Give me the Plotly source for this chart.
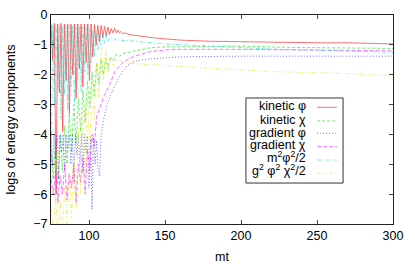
import plotly.graph_objects as go

# ---------------- data ----------------
kin_phi_x = [75.0, 76.1, 77.2, 78.3, 79.4, 80.5, 81.6, 82.7, 83.8, 84.9, 86.0, 87.1, 88.2, 89.3,
             90.4, 91.5, 92.6, 93.7, 94.8, 95.9, 97.0, 98.1, 99.2, 100.3, 101.4, 102.5, 103.6,
             104.7, 105.8, 106.9, 108.0, 109.1, 110.2, 111.3, 112.4, 113.5, 114.6, 115.7, 116.8,
             118, 119, 120, 121, 122, 124, 126, 130, 135, 140, 150, 160, 180, 200, 220, 250, 270, 300]
kin_phi_y = [-0.3, -1.5, -0.28, -6.0, -0.3, -2.6, -0.28, -3.9, -0.3, -2.2, -0.3, -3.3, -0.3, -2.0,
             -0.3, -2.8, -0.3, -1.8, -0.3, -2.4, -0.3, -1.6, -0.3, -2.2, -0.3, -1.4, -0.32,
             -1.0, -0.35, -0.9, -0.35, -0.75, -0.38, -0.7, -0.4, -0.65, -0.45, -0.6, -0.45,
             -0.6, -0.5, -0.6, -0.55, -0.62, -0.6, -0.65, -0.68, -0.72, -0.75, -0.8, -0.84, -0.88, -0.9, -0.92, -0.93, -0.93, -0.97]

kin_chi_x = [75, 76.5, 78, 79.5, 81, 82.5, 84, 85.5, 87, 88.5, 90, 91.5, 93, 94.5, 96, 97.5, 99,
             100.5, 102, 103.5, 105, 106.5, 108, 109.5, 111, 112.5, 114, 116, 118, 120, 123, 126,
             130, 140, 150, 175, 200, 225, 250, 275, 300]
kin_chi_y = [-4.5, -5.5, -4.2, -5.7, -4.0, -5.2, -3.7, -5.0, -3.3, -4.6, -3.0, -4.3, -2.8, -3.9,
             -2.5, -3.6, -2.2, -3.1, -1.9, -2.7, -1.6, -2.3, -1.5, -2.0, -1.45, -1.8, -1.4, -1.55,
             -1.32, -1.38, -1.28, -1.25, -1.2, -1.1, -1.07, -1.05, -1.04, -1.08, -1.1, -1.12, -1.12]

grad_phi_x = [75, 76, 77, 78, 79, 80, 81, 82, 83, 84, 85, 86, 87, 88, 89, 90, 91, 92, 93, 94, 95,
              96, 97, 98, 99, 100, 101, 102, 103, 104, 105, 106, 107, 108, 109, 110, 112, 114,
              116, 118, 120, 122, 125, 129, 135, 140, 160, 200, 250, 300]
grad_phi_y = [-4.0, -5.0, -4.0, -4.8, -4.0, -5.5, -4.0, -4.6, -4.0, -5.2, -4.0, -4.5, -4.0, -5.0,
              -4.0, -5.6, -4.0, -4.7, -4.0, -5.0, -4.0, -5.3, -4.0, -4.6, -4.05, -5.8, -4.1,
              -6.5, -4.1, -5.0, -4.2, -5.2, -5.4, -4.0, -3.7, -3.4, -3.0, -2.7, -2.5, -2.25,
              -2.05, -1.9, -1.7, -1.57, -1.5, -1.47, -1.4, -1.38, -1.37, -1.38]

grad_chi_x = [75, 76.5, 78, 79.5, 81, 82.5, 84, 85.5, 87, 88.5, 90, 91.5, 93, 94.5, 96, 97.5, 99,
              100.5, 102, 103.5, 105, 107, 110, 113, 117, 120, 125, 130, 135, 140, 150, 160,
              200, 250, 300]
grad_chi_y = [-5.5, -6.0, -5.2, -6.3, -5.4, -6.0, -5.0, -6.2, -5.3, -5.8, -5.0, -6.3, -5.0, -5.6,
              -4.8, -6.0, -4.5, -5.2, -4.0, -4.4, -3.4, -3.1, -2.7, -2.4, -1.9, -1.7, -1.5, -1.38,
              -1.3, -1.23, -1.17, -1.15, -1.15, -1.18, -1.2]

pot_x = kin_phi_x[:35] + [114, 116, 118, 120, 125, 130, 140, 150, 175, 200, 225, 250, 275, 300]
pot_y = [-5.5, -0.35, -3.0, -0.35, -2.5, -0.35, -3.5, -0.35, -2.7, -0.35, -3.2, -0.35, -2.4,
         -0.35, -3.0, -0.38, -2.2, -0.38, -2.6, -0.4, -1.9, -0.42, -2.0, -0.45, -1.6, -0.5,
         -1.4, -0.55, -1.2, -0.6, -1.0, -0.65, -0.95, -0.7, -0.9,
         -0.75, -0.85, -0.8, -0.85, -0.85, -0.88, -0.92, -0.97, -1.03, -1.1, -1.15, -1.18, -1.22, -1.25]

int_x = [75, 76.5, 78, 79.5, 81, 82.5, 84, 85.5, 87, 88.5, 90, 91.5, 93, 94.5, 96, 97.5, 99, 100.5,
         102, 103.5, 105, 106.5, 108, 109.5, 111, 112.5, 114, 116, 118, 121, 125, 130, 140, 160,
         180, 200, 225, 250, 275, 300]
int_y = [-6.5, -7.2, -6.0, -7.5, -6.2, -7.3, -5.8, -7.0, -5.3, -6.8, -4.5, -6.5, -3.8, -6.0, -3.2,
         -5.5, -2.7, -4.5, -2.2, -3.5, -1.6, -2.8, -1.1, -2.2, -1.2, -1.9, -1.4, -1.7, -1.5, -1.55,
         -1.6, -1.63, -1.66, -1.74, -1.8, -1.84, -1.9, -1.93, -1.97, -2.05]

series_names = ["kinetic φ", "kinetic χ", "gradient φ", "gradient χ",
                "m<sup>2</sup>φ<sup>2</sup>/2", "g<sup>2</sup> φ<sup>2</sup> χ<sup>2</sup>/2"]
series_x = [kin_phi_x, kin_chi_x, grad_phi_x, grad_chi_x, pot_x, int_x]
series_y = [kin_phi_y, kin_chi_y, grad_phi_y, grad_chi_y, pot_y, int_y]

x_ticks = [100, 150, 200, 250, 300]
y_ticks = [0, -1, -2, -3, -4, -5, -6, -7]

# ---------------- styles ----------------
colors = ["#ff0000", "#00e000", "#0000ff", "#ff00ff", "#00e0e0", "#e8e800"]
dashes = ["solid", "3px,2px", "1px,2px", "4px,2px", "4px,2px,1px,2px", "4px,2px,1px,2px,1px,2px"]

fig = go.Figure()
for name, xs, ys, c, d in zip(series_names, series_x, series_y, colors, dashes):
    fig.add_trace(go.Scatter(x=xs, y=ys, mode="lines", name=name,
                             line=dict(color=c, width=0.8, dash=d), opacity=0.7,
                             showlegend=False, hoverinfo="skip"))

family = "Liberation Sans, Arial, sans-serif"
font = dict(family=family, size=12.5, color="black")

# gnuplot-style legend: right-aligned text with sample line at right
text_y = [0.5636, 0.4986, 0.4344, 0.3756, 0.3206, 0.2569]
line_y = [0.5584, 0.4928, 0.4340, 0.3699, 0.3062, 0.2426]
for name, c, d, ty, ly in zip(series_names, colors, dashes, text_y, line_y):
    fig.add_annotation(xref="paper", yref="paper", x=0.752, y=ty, text=name,
                       showarrow=False, xanchor="right", yanchor="middle",
                       font=dict(family=family, size=12.5, color="black"))
    fig.add_shape(type="line", xref="paper", yref="paper", x0=0.778, x1=0.836, y0=ly, y1=ly,
                  line=dict(color=c, width=0.8, dash=d), opacity=0.7)
fig.add_shape(type="rect", xref="paper", yref="paper", x0=0.570, x1=0.854, y0=0.196, y1=0.603,
              line=dict(color="#333333", width=1), fillcolor="white", layer="below")

fig.update_layout(
    width=415, height=264,
    margin=dict(l=51, r=22, t=15, b=40, autoexpand=False),
    paper_bgcolor="white", plot_bgcolor="white",
    font=font,
    hovermode=False,
    xaxis=dict(range=[75, 300], tickvals=x_ticks, ticks="inside", ticklen=4,
               showline=True, linecolor="#222222", linewidth=1, mirror="ticks",
               showgrid=False, zeroline=False, automargin=False,
               title=dict(text="mt", standoff=18, font=dict(family=family, size=12.5)),
               tickfont=font),
    yaxis=dict(range=[-7, 0], tickvals=y_ticks, ticks="inside", ticklen=4,
               showline=True, linecolor="#222222", linewidth=1, mirror="ticks",
               showgrid=False, zeroline=False, automargin=False,
               title=dict(text="logs of energy components", standoff=14,
                          font=dict(family=family, size=12.5)),
               tickfont=font),
)

# remove the browser's default 8px body margin so the figure sits at the page origin
fig.write_html("out.html", config={"displayModeBar": False},
               post_script="document.body.style.margin='0';")
